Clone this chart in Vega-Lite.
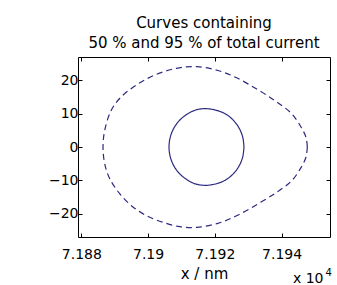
{
  "$schema": "https://vega.github.io/schema/vega-lite/v6.json",
  "autosize": "none",
  "padding": {"left": 78, "top": 57, "right": 7, "bottom": 48},
  "width": 252,
  "height": 180,
  "background": "white",
  "title": {
    "text": ["Curves containing", "50 % and 95 % of total current"],
    "font": "DejaVu Sans",
    "fontSize": 15,
    "fontWeight": "normal",
    "color": "black",
    "lineHeight": 20,
    "offset": 6,
    "anchor": "middle"
  },
  "config": {
    "view": {"stroke": "black", "strokeWidth": 1},
    "axis": {
      "labelFont": "DejaVu Sans",
      "labelFontSize": 14,
      "labelColor": "black",
      "titleFont": "DejaVu Sans",
      "titleFontSize": 15,
      "titleFontWeight": "normal",
      "titleColor": "black",
      "domain": false,
      "grid": false,
      "tickColor": "black",
      "tickSize": -4,
      "ticks": true
    }
  },
  "datasets": {
    "curves": [
      {"curve": "50 %", "i": 0, "x": 7.192873, "y": 0},
      {"curve": "50 %", "i": 1, "x": 7.192835, "y": 2.98},
      {"curve": "50 %", "i": 2, "x": 7.192723, "y": 5.75},
      {"curve": "50 %", "i": 3, "x": 7.192544, "y": 8.13},
      {"curve": "50 %", "i": 4, "x": 7.192312, "y": 9.96},
      {"curve": "50 %", "i": 5, "x": 7.192011, "y": 11.11},
      {"curve": "50 %", "i": 6, "x": 7.19172, "y": 11.5},
      {"curve": "50 %", "i": 7, "x": 7.191429, "y": 11.11},
      {"curve": "50 %", "i": 8, "x": 7.191188, "y": 9.96},
      {"curve": "50 %", "i": 9, "x": 7.190956, "y": 8.13},
      {"curve": "50 %", "i": 10, "x": 7.190777, "y": 5.75},
      {"curve": "50 %", "i": 11, "x": 7.190665, "y": 2.98},
      {"curve": "50 %", "i": 12, "x": 7.190627, "y": 0},
      {"curve": "50 %", "i": 13, "x": 7.190665, "y": -2.98},
      {"curve": "50 %", "i": 14, "x": 7.190777, "y": -5.75},
      {"curve": "50 %", "i": 15, "x": 7.190956, "y": -8.13},
      {"curve": "50 %", "i": 16, "x": 7.191188, "y": -9.96},
      {"curve": "50 %", "i": 17, "x": 7.191429, "y": -11.11},
      {"curve": "50 %", "i": 18, "x": 7.19172, "y": -11.5},
      {"curve": "50 %", "i": 19, "x": 7.192011, "y": -11.11},
      {"curve": "50 %", "i": 20, "x": 7.192312, "y": -9.96},
      {"curve": "50 %", "i": 21, "x": 7.192544, "y": -8.13},
      {"curve": "50 %", "i": 22, "x": 7.192723, "y": -5.75},
      {"curve": "50 %", "i": 23, "x": 7.192835, "y": -2.98},
      {"curve": "50 %", "i": 24, "x": 7.192873, "y": 0},
      {"curve": "95 %", "i": 0, "x": 7.19477, "y": 0},
      {"curve": "95 %", "i": 1, "x": 7.194731, "y": 2.9},
      {"curve": "95 %", "i": 2, "x": 7.194581, "y": 6.0},
      {"curve": "95 %", "i": 3, "x": 7.194296, "y": 10.05},
      {"curve": "95 %", "i": 4, "x": 7.193832, "y": 13.65},
      {"curve": "95 %", "i": 5, "x": 7.193254, "y": 17.4},
      {"curve": "95 %", "i": 6, "x": 7.192634, "y": 20.85},
      {"curve": "95 %", "i": 7, "x": 7.192094, "y": 22.95},
      {"curve": "95 %", "i": 8, "x": 7.19146, "y": 24.1},
      {"curve": "95 %", "i": 9, "x": 7.19085, "y": 23.6},
      {"curve": "95 %", "i": 10, "x": 7.1902, "y": 21.6},
      {"curve": "95 %", "i": 11, "x": 7.18965, "y": 18.6},
      {"curve": "95 %", "i": 12, "x": 7.1892, "y": 15.1},
      {"curve": "95 %", "i": 13, "x": 7.1889, "y": 11.1},
      {"curve": "95 %", "i": 14, "x": 7.1887, "y": 5.0},
      {"curve": "95 %", "i": 15, "x": 7.18865, "y": 0},
      {"curve": "95 %", "i": 16, "x": 7.1887, "y": -5.0},
      {"curve": "95 %", "i": 17, "x": 7.18885, "y": -9.5},
      {"curve": "95 %", "i": 18, "x": 7.18915, "y": -14.0},
      {"curve": "95 %", "i": 19, "x": 7.1895, "y": -17.6},
      {"curve": "95 %", "i": 20, "x": 7.18995, "y": -20.6},
      {"curve": "95 %", "i": 21, "x": 7.19045, "y": -22.6},
      {"curve": "95 %", "i": 22, "x": 7.19095, "y": -23.9},
      {"curve": "95 %", "i": 23, "x": 7.19146, "y": -24.1},
      {"curve": "95 %", "i": 24, "x": 7.192094, "y": -22.9},
      {"curve": "95 %", "i": 25, "x": 7.192634, "y": -20.7},
      {"curve": "95 %", "i": 26, "x": 7.193254, "y": -17.3},
      {"curve": "95 %", "i": 27, "x": 7.193832, "y": -13.7},
      {"curve": "95 %", "i": 28, "x": 7.194296, "y": -10.2},
      {"curve": "95 %", "i": 29, "x": 7.194581, "y": -6.2},
      {"curve": "95 %", "i": 30, "x": 7.194731, "y": -3.0},
      {"curve": "95 %", "i": 31, "x": 7.19477, "y": 0}
    ]
  },
  "layer": [
    {
      "data": {"name": "curves"},
      "mark": {"type": "line", "interpolate": "catmull-rom", "strokeWidth": 1.2, "color": "#2c2a80"},
      "encoding": {
        "x": {
          "field": "x", "type": "quantitative",
          "scale": {"domain": [7.1879, 7.19545], "nice": false, "zero": false},
          "axis": {"orient": "bottom", "values": [7.188, 7.19, 7.192, 7.194], "format": "~g", "title": "x / nm", "labelPadding": 14, "titlePadding": 5}
        },
        "y": {
          "field": "y", "type": "quantitative",
          "scale": {"domain": [-27, 27], "nice": false, "zero": false},
          "axis": {"orient": "left", "values": [-20, -10, 0, 10, 20], "title": null, "labelPadding": 4}
        },
        "detail": {"field": "curve"},
        "order": {"field": "i", "type": "quantitative"},
        "strokeDash": {"field": "curve", "type": "nominal", "scale": {"domain": ["50 %", "95 %"], "range": [[1, 0], [6, 4]]}, "legend": null}
      }
    },
    {
      "data": {"name": "curves"},
      "mark": {"type": "line", "opacity": 0},
      "encoding": {
        "x": {"field": "x", "type": "quantitative", "axis": {"orient": "top", "values": [7.188, 7.19, 7.192, 7.194], "labels": false, "title": null}},
        "y": {"field": "y", "type": "quantitative", "axis": {"orient": "right", "values": [-20, -10, 0, 10, 20], "labels": false, "title": null}},
        "detail": {"field": "curve"}
      }
    },
    {
      "data": {"name": "curves"},
      "mark": {"type": "line", "opacity": 0},
      "encoding": {
        "x": {"field": "x", "type": "quantitative", "axis": {"orient": "bottom", "ticks": false, "labels": false, "title": "x 10", "titleFontSize": 14, "titleAlign": "right", "titleAnchor": "end", "titleBaseline": "alphabetic", "titleX": 245, "titleY": 45}},
        "y": {"field": "y", "type": "quantitative", "axis": null},
        "detail": {"field": "curve"}
      }
    },
    {
      "data": {"name": "curves"},
      "mark": {"type": "line", "opacity": 0},
      "encoding": {
        "x": {"field": "x", "type": "quantitative", "axis": {"orient": "bottom", "ticks": false, "labels": false, "title": "4", "titleFontSize": 10, "titleAlign": "left", "titleAnchor": "start", "titleBaseline": "alphabetic", "titleX": 247, "titleY": 38}},
        "y": {"field": "y", "type": "quantitative", "axis": null},
        "detail": {"field": "curve"}
      }
    }
  ],
  "resolve": {"axis": {"x": "independent", "y": "independent"}}
}
